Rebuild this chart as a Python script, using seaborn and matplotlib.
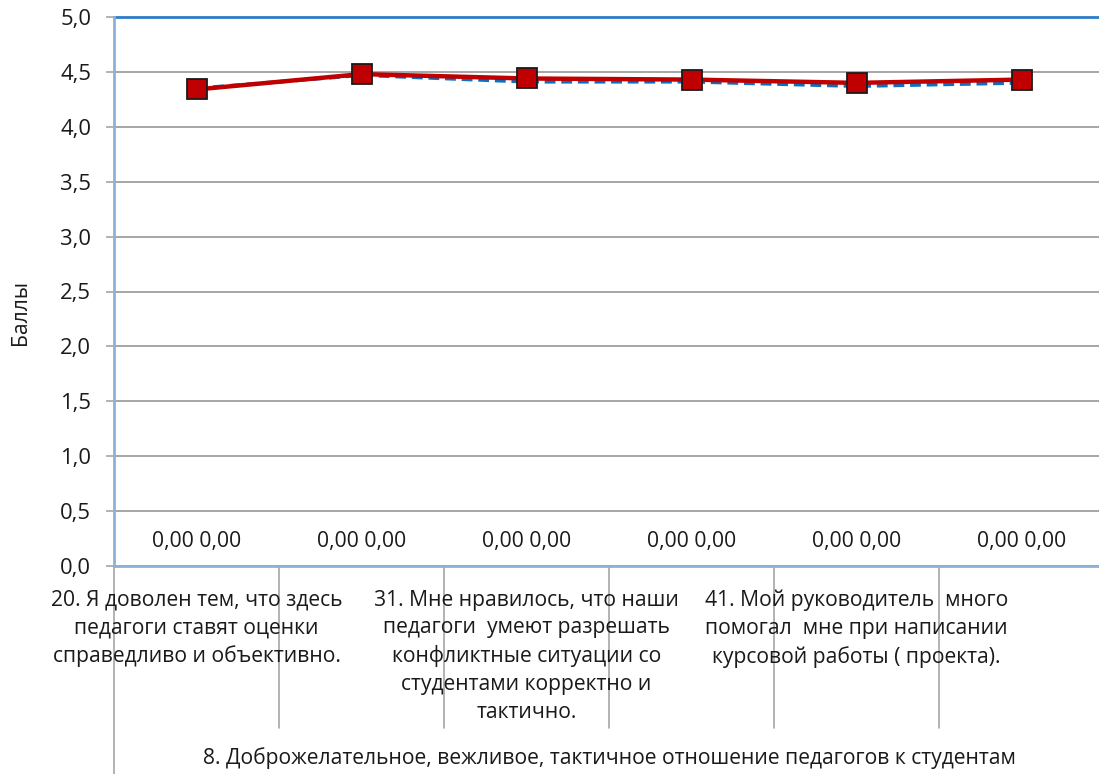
import matplotlib
matplotlib.use("Agg")
import matplotlib.pyplot as plt
import matplotlib.transforms as mtransforms
import numpy as np
import pandas as pd
import seaborn as sns

# Survey items (only every other label is printed on the axis)
cat_labels = [
    "20. Я доволен тем, что здесь\nпедагоги ставят оценки\nсправедливо и объективно.",
    "",
    "31. Мне нравилось, что наши\nпедагоги  умеют разрешать\nконфликтные ситуации со\nстудентами корректно и\nтактично.",
    "",
    "41. Мой руководитель  много\nпомогал  мне при написании\nкурсовой работы ( проекта).",
    "",
]
group_label = "8. Доброжелательное, вежливое, тактичное отношение педагогов к студентам"

# Average scores for two groups of respondents
series_red = [4.34, 4.48, 4.44, 4.43, 4.40, 4.43]
series_blue = [4.35, 4.47, 4.41, 4.41, 4.37, 4.40]
# Empty comparison series shown only through their value labels
series_zero_a = [0.0, 0.0, 0.0, 0.0, 0.0, 0.0]
series_zero_b = [0.0, 0.0, 0.0, 0.0, 0.0, 0.0]

y_ticks = [0.0, 0.5, 1.0, 1.5, 2.0, 2.5, 3.0, 3.5, 4.0, 4.5, 5.0]

sns.set_style("white")
plt.rcParams["font.family"] = ["Open Sans", "DejaVu Sans"]

FS = 15.2
W, H = 1099, 774
fig = plt.figure(figsize=(W / 100, H / 100), dpi=100)
ax_left, ax_right, ax_top, ax_bottom = 114, 1104, 17, 566
ax = fig.add_axes([ax_left / W, 1 - ax_bottom / H,
                   (ax_right - ax_left) / W, (ax_bottom - ax_top) / H])

x = np.arange(len(series_red))
df = pd.DataFrame({"x": x, "red": series_red, "blue": series_blue})

sns.lineplot(data=df, x="x", y="blue", ax=ax, color="#0A70C2", lw=2.6,
             linestyle=(0, (3, 1.6)), zorder=3)
sns.lineplot(data=df, x="x", y="red", ax=ax, color="#C00000", lw=3.2,
             marker="s", markersize=14, markerfacecolor="#C00000",
             markeredgecolor="#1a1a1a", markeredgewidth=1.3, zorder=4)

ax.set_xlim(-0.5, len(x) - 0.5)
ax.set_ylim(0, 5)
ax.set_yticks(y_ticks)
ax.set_yticklabels([f"{v:.1f}".replace(".", ",") for v in y_ticks])
ax.set_xticks([])
ax.set_xlabel("")
ax.set_ylabel("")
ax.yaxis.grid(True, color="#A6A6A6", lw=1.4)
ax.set_axisbelow(True)
ax.tick_params(axis="y", left=True, length=5.5, width=1.2, color="#A6A6A6",
               pad=11, labelsize=FS + 0.6, labelcolor="#1a1a1a")

for side in ["left", "bottom"]:
    ax.spines[side].set_color("#8DB1D6")
    ax.spines[side].set_linewidth(2.0)
ax.spines["top"].set_color("#2E7DC8")
ax.spines["top"].set_linewidth(2.0)
ax.spines["right"].set_visible(False)
ax.spines["left"].set_zorder(5)
ax.spines["bottom"].set_zorder(5)

# Value labels of the empty series
for i, (a, b) in enumerate(zip(series_zero_a, series_zero_b)):
    txt = f"{a:.2f}".replace(".", ",") + " " + f"{b:.2f}".replace(".", ",")
    ax.annotate(txt, xy=(i, a), xytext=(0, 17.5), textcoords="offset points",
                ha="center", va="center", fontsize=FS, color="#1a1a1a")

# Multi-level category axis
blend = mtransforms.blended_transform_factory(ax.transData, ax.transAxes)
axh = ax_bottom - ax_top
for k in range(len(x) + 1):
    xb = k - 0.5
    low = -(774 - ax_bottom) / axh if k == 0 else -(728 - ax_bottom) / axh
    ax.plot([xb, xb], [0, low], transform=blend, color="#A6A6A6", lw=1.2,
            clip_on=False, zorder=1)

for i, lab in enumerate(cat_labels):
    if not lab:
        continue
    ax.annotate(lab, xy=(i, 0), xycoords=blend, xytext=(0, -17),
                textcoords="offset points", ha="center", va="top",
                fontsize=FS, linespacing=1.42, color="#1a1a1a",
                annotation_clip=False)

ax.annotate(group_label, xy=(0.5, 0), xycoords="axes fraction",
            xytext=(0, -(758 - ax_bottom) * 0.72), textcoords="offset points",
            ha="center", va="center", fontsize=FS, color="#1a1a1a",
            annotation_clip=False)
fig.text(20 / W, 1 - 312 / H, "Баллы", rotation=90, ha="center",
         va="center", fontsize=FS, color="#1a1a1a")

fig.savefig("out.png", dpi=100)
